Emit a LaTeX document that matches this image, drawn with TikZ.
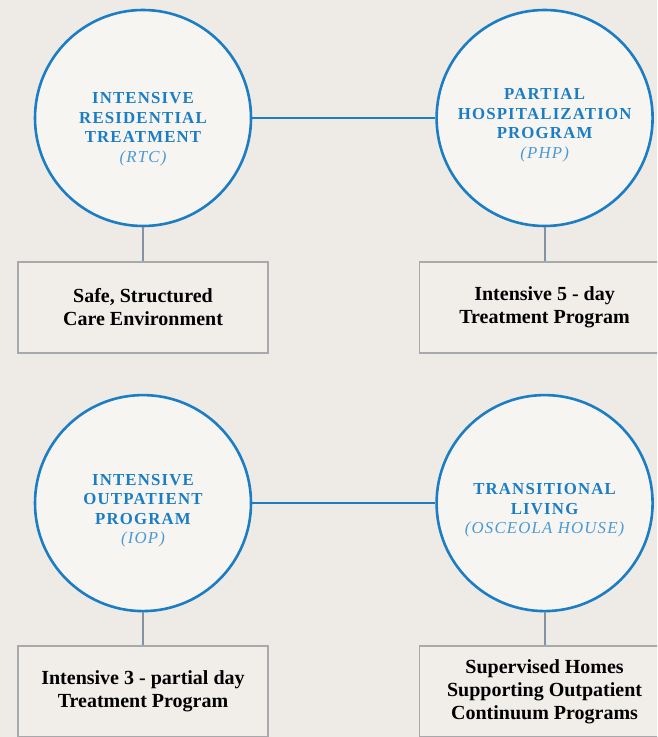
\documentclass[tikz,border=0pt]{standalone}
\usepackage{fontspec}
\setmainfont{Liberation Serif}
\newfontfamily\progfont[LetterSpace=7]{Liberation Serif}
\usetikzlibrary{positioning}

\definecolor{paper}{HTML}{EEEAE5}
\definecolor{ringblue}{HTML}{1B7DC4}
\definecolor{softblue}{HTML}{4A9AD4}
\definecolor{ringfill}{HTML}{F7F5F2}
\definecolor{stemgray}{HTML}{8492A3}
\definecolor{boxgray}{HTML}{A7A9AC}
\definecolor{boxfill}{HTML}{F1EEEA}

\begin{document}
\begin{tikzpicture}[x=1pt, y=1pt, node distance={34pt},
  prog/.style = {circle, draw=ringblue, line width=2.6pt, fill=ringfill, minimum size=216pt, inner sep=0pt,
    align=center, text=ringblue, font=\progfont\bfseries\fontsize{16.8}{19.5}\selectfont},
  info/.style = {rectangle, draw=boxgray, line width=1.5pt, fill=boxfill, minimum width=250pt, minimum height=91pt,
    align=center, text=black, font=\bfseries\fontsize{20}{23}\selectfont},
  link/.style = {draw=ringblue, line width=2pt},
  stem/.style = {draw=stemgray, line width=2pt}]
\useasboundingbox (0,0) rectangle (657,737);
\fill[paper] (0,0) rectangle (657,737);
\clip (0,0) rectangle (657,737);

% programs (the struts push the text a little below the centre)
\node[prog] (rtc) at (143,619) {\rule{0pt}{34pt}INTENSIVE\\RESIDENTIAL\\TREATMENT\\{\mdseries\itshape\color{softblue}(RTC)}};
\node[prog] (php) [right=183pt of rtc] {\rule{0pt}{26pt}PARTIAL\\HOSPITALIZATION\\PROGRAM\\{\mdseries\itshape\color{softblue}(PHP)}};
\node[info] (safe) [below=of rtc] {Safe, Structured\\Care Environment};
\node[info] (five) [below=of php] {Intensive 5 - day\\Treatment Program};
\node[prog] (iop) [below=40pt of safe] {\rule{0pt}{26pt}INTENSIVE\\OUTPATIENT\\PROGRAM\\{\mdseries\itshape\color{softblue}(IOP)}};
\node[prog] (tl) [right=183pt of iop] {\rule{0pt}{26pt}TRANSITIONAL\\LIVING\\{\mdseries\itshape\color{softblue}(OSCEOLA HOUSE)}};
\node[info] (three) [below=33pt of iop] {Intensive 3 - partial day\\Treatment Program};
\node[info] (homes) [below=33pt of tl] {Supervised Homes\\Supporting Outpatient\\Continuum Programs};

\draw[link] (rtc) -- (php);
\draw[link] (iop) -- (tl);
\draw[stem] (rtc) -- (safe);
\draw[stem] (php) -- (five);
\draw[stem] (iop) -- (three);
\draw[stem] (tl) -- (homes);
\end{tikzpicture}
\end{document}
